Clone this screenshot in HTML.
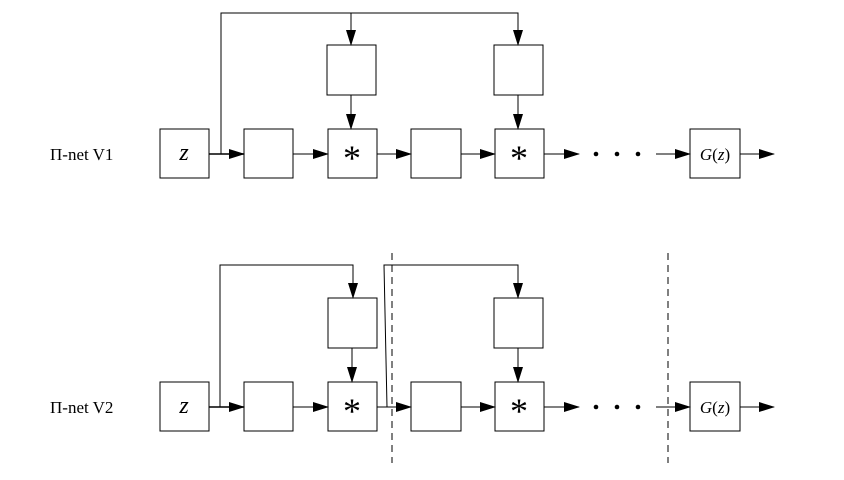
<!DOCTYPE html>
<html><head><style>body{margin:0;background:#fff}svg{display:block}</style></head><body>
<svg width="844" height="480" viewBox="0 0 844 480" xmlns="http://www.w3.org/2000/svg">
<defs><marker id="a" markerWidth="16" markerHeight="10" refX="15" refY="5" orient="auto" markerUnits="userSpaceOnUse"><path d="M0,0 L16,5 L0,10 z" fill="#000"/></marker></defs>
<g fill="none" stroke="#000" stroke-width="1">
<!-- Row 1 -->
<rect x="160" y="129" width="49" height="49"/>
<rect x="244" y="129" width="49" height="49"/>
<rect x="328" y="129" width="49" height="49"/>
<rect x="411" y="129" width="50" height="49"/>
<rect x="495" y="129" width="49" height="49"/>
<rect x="690" y="129" width="50" height="49"/>
<rect x="327" y="45" width="49" height="50"/>
<rect x="494" y="45" width="49" height="50"/>
<path d="M221,154 V13 H518 V45" marker-end="url(#a)"/>
<path d="M351,13 V45" marker-end="url(#a)"/>
<path d="M351,95 V129" marker-end="url(#a)"/>
<path d="M518,95 V129" marker-end="url(#a)"/>
<path d="M209,154 H244" marker-end="url(#a)" stroke-width="1.5"/>
<path d="M293,154 H328" marker-end="url(#a)"/>
<path d="M377,154 H411" marker-end="url(#a)"/>
<path d="M461,154 H495" marker-end="url(#a)"/>
<path d="M544,154 H579" marker-end="url(#a)"/>
<path d="M656,154 H690" marker-end="url(#a)"/>
<path d="M740,154 H774" marker-end="url(#a)"/>
<!-- Row 2 -->
<rect x="160" y="382" width="49" height="49"/>
<rect x="244" y="382" width="49" height="49"/>
<rect x="328" y="382" width="49" height="49"/>
<rect x="411" y="382" width="50" height="49"/>
<rect x="495" y="382" width="49" height="49"/>
<rect x="690" y="382" width="50" height="49"/>
<rect x="328" y="298" width="49" height="50"/>
<rect x="494" y="298" width="49" height="50"/>
<path d="M220,407 V265 H353 V298" marker-end="url(#a)"/>
<path d="M387,407 L384,265 H518 V298" marker-end="url(#a)"/>
<path d="M352,348 V382" marker-end="url(#a)"/>
<path d="M518,348 V382" marker-end="url(#a)"/>
<path d="M209,407 H244" marker-end="url(#a)" stroke-width="1.5"/>
<path d="M293,407 H328" marker-end="url(#a)"/>
<path d="M377,407 H411" marker-end="url(#a)"/>
<path d="M461,407 H495" marker-end="url(#a)"/>
<path d="M544,407 H579" marker-end="url(#a)"/>
<path d="M656,407 H690" marker-end="url(#a)"/>
<path d="M740,407 H774" marker-end="url(#a)"/>
<path d="M392,253 V463 M668,253 V463" stroke-dasharray="7,5"/>
</g>
<g fill="#000">
<circle cx="596" cy="154" r="2.3"/><circle cx="617" cy="154" r="2.3"/><circle cx="638" cy="154" r="2.3"/>
<circle cx="596" cy="407" r="2.3"/><circle cx="617" cy="407" r="2.3"/><circle cx="638" cy="407" r="2.3"/>
</g>
<g font-family="Liberation Serif, serif" fill="#000">
<text x="50" y="160" font-size="17">Π-net V1</text>
<text x="50" y="413" font-size="17">Π-net V2</text>
<text x="184" y="160" font-size="24" font-style="italic" text-anchor="middle">z</text>
<text x="184" y="413" font-size="24" font-style="italic" text-anchor="middle">z</text>
<text x="352" y="170" font-size="36" text-anchor="middle">*</text>
<text x="519" y="170" font-size="36" text-anchor="middle">*</text>
<text x="352" y="423" font-size="36" text-anchor="middle">*</text>
<text x="519" y="423" font-size="36" text-anchor="middle">*</text>
<text x="715" y="160" font-size="17" text-anchor="middle"><tspan font-style="italic">G</tspan>(<tspan font-style="italic">z</tspan>)</text>
<text x="715" y="413" font-size="17" text-anchor="middle"><tspan font-style="italic">G</tspan>(<tspan font-style="italic">z</tspan>)</text>
</g>
</svg>
</body></html>
